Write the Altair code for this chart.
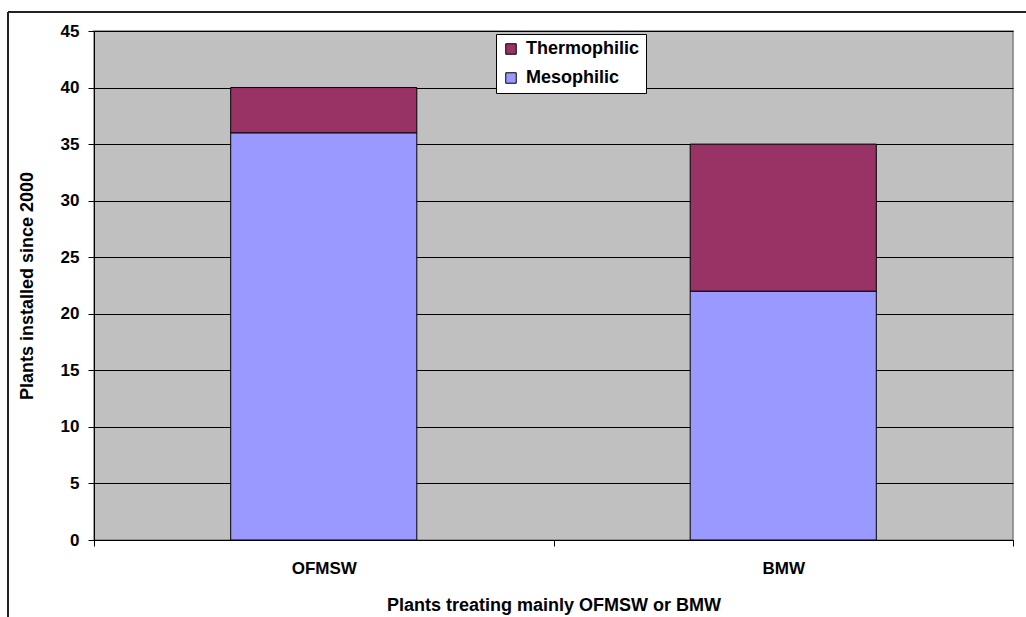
import altair as alt
import pandas as pd

# Plants installed since 2000, split by digestion temperature regime
categories = ["OFMSW", "BMW"]
mesophilic = [36, 22]
thermophilic = [4, 13]
series_names = ["Mesophilic", "Thermophilic"]
series_colors = ["#9999FF", "#993366"]
y_ticks = [0, 5, 10, 15, 20, 25, 30, 35, 40, 45]

rows = []
for cat, m, t in zip(categories, mesophilic, thermophilic):
    rows.append({"plant": cat, "regime": "Mesophilic", "count": m, "stack": 0})
    rows.append({"plant": cat, "regime": "Thermophilic", "count": t, "stack": 1})
df = pd.DataFrame(rows)

FONT = "Liberation Sans"

bars = alt.Chart(df).mark_bar(
    stroke="black", strokeWidth=1, width=alt.RelativeBandSize(0.405)
).encode(
    x=alt.X(
        "plant:N",
        sort=categories,
        scale=alt.Scale(paddingInner=0, paddingOuter=0),
        axis=alt.Axis(
            title="Plants treating mainly OFMSW or BMW",
            labelAngle=0,
            tickBand="extent",
            tickSize=6,
            labelPadding=14,
            titlePadding=20,
        ),
    ),
    y=alt.Y(
        "count:Q",
        stack="zero",
        scale=alt.Scale(domain=[0, 45], nice=False),
        axis=alt.Axis(
            title="Plants installed since 2000",
            values=y_ticks,
            tickSize=6,
            labelPadding=9,
            titlePadding=24,
            grid=True,
        ),
    ),
    color=alt.Color(
        "regime:N",
        scale=alt.Scale(domain=series_names, range=series_colors),
        legend=alt.Legend(
            title=None,
            orient="none",
            legendX=402,
            legendY=3,
            values=["Thermophilic", "Mesophilic"],
        ),
    ),
    order=alt.Order("stack:Q", sort="ascending"),
)

# Outer frame of the chart, drawn around the plot region
frame_top = alt.Chart(df).mark_rule(color="#222222", strokeWidth=1.5, clip=False).encode(
    x=alt.value(-86), x2=alt.value(940), y=alt.value(-19)
)
frame_left = alt.Chart(df).mark_rule(color="#222222", strokeWidth=1.5, clip=False).encode(
    x=alt.value(-86), y=alt.value(-19), y2=alt.value(600)
)

chart = (
    alt.layer(bars, frame_top, frame_left)
    .properties(
        width=919,
        height=509,
        autosize=alt.AutoSizeParams(type="none"),
        padding={"left": 94, "top": 31, "right": 13, "bottom": 77},
        background="white",
    )
    .configure_view(fill="#C0C0C0", stroke="#808080", strokeWidth=1.5)
    .configure_axis(
        labelFont=FONT,
        titleFont=FONT,
        labelFontSize=17,
        titleFontSize=18,
        labelFontWeight="bold",
        titleFontWeight="bold",
        labelColor="black",
        titleColor="black",
        domainColor="black",
        tickColor="black",
        gridColor="black",
        gridOpacity=1,
        gridWidth=1,
        domainWidth=1,
    )
    .configure_axisX(grid=False)
    .configure_legend(
        labelFont=FONT,
        labelFontSize=18,
        labelFontWeight="bold",
        labelColor="black",
        fillColor="white",
        strokeColor="black",
        padding=6,
        symbolType="square",
        symbolSize=110,
        symbolStrokeColor="black",
        symbolStrokeWidth=1,
        symbolOpacity=1,
        rowPadding=11,
        labelOffset=6,
    )
)

chart.save("out.html", embed_options={"renderer": "svg", "actions": False})
